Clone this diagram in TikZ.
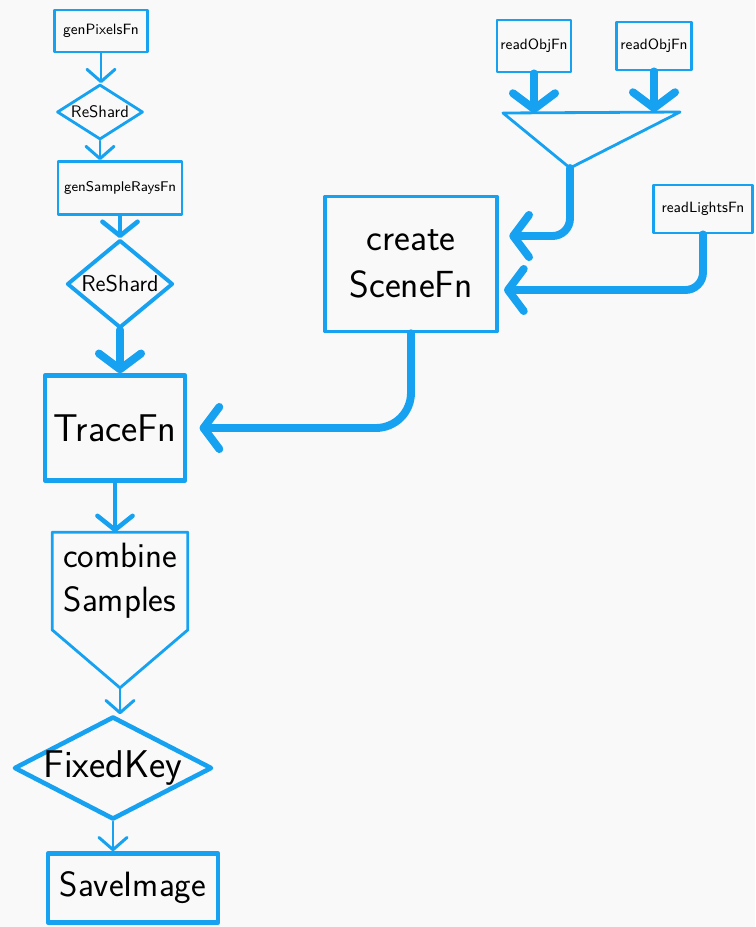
\documentclass[tikz,border=0pt]{standalone}
\usepackage{tikz}
\usetikzlibrary{shapes,calc,arrows.meta,positioning}
\definecolor{skyblue}{RGB}{22,162,240}
\definecolor{paper}{RGB}{249,249,249}

\begin{document}
\begin{tikzpicture}[x=0.02cm,y=-0.02cm,
        outline/.style={draw=skyblue, line width=1.6pt, line join=round},
        box/.style={outline, inner sep=0pt, align=center},
        bigbox/.style={box, line width=2.6pt},
        rhomb/.style={box, diamond, aspect=1.6},
        tinytext/.style={font=\sffamily\fontsize{8.5}{10}\selectfont},
        smalltext/.style={font=\sffamily\fontsize{9.5}{11}\selectfont},
        midtext/.style={font=\sffamily\fontsize{13}{15}\selectfont},
        bigtext/.style={font=\sffamily\fontsize{20}{25}\selectfont},
        hugetext/.style={font=\sffamily\fontsize{22}{27}\selectfont},
        flow/.style={skyblue, line width=1.7pt, line cap=round, -{Straight Barb[round,length=7pt,width=16pt]}},
        flowmid/.style={flow, line width=2.6pt, -{Straight Barb[round,length=8pt,width=20pt]}},
        flowbig/.style={flow, line width=4.5pt, -{Straight Barb[round,length=9pt,width=24pt]}}]
        %Background
        \fill[paper] (0,0) rectangle (755,927);
        \useasboundingbox (0,0) rectangle (755,927);
        %Left column
        \node[box, tinytext, minimum width=1.86cm, minimum height=0.84cm] (genpix) at (101,31) {genPixelsFn};
        \node[rhomb, smalltext, minimum width=1.72cm, minimum height=1.1cm] (reshardA) at (100,112) {ReShard};
        \node[box, font=\sffamily\fontsize{8}{10}\selectfont, minimum width=2.48cm, minimum height=1.06cm] (gensample) at (120,188) {genSampleRaysFn};
        \node[rhomb, midtext, line width=2.2pt, minimum width=2.12cm, minimum height=1.76cm] (reshardB) at (120,284) {ReShard};
        \node[bigbox, hugetext, minimum width=2.8cm, minimum height=2.1cm] (trace) at (115,428) {TraceFn};
        \node[bigtext, align=center, inner sep=0pt, minimum width=2.7cm, minimum height=1.94cm] (comb) at (120,581) {combine\\Samples};
        \coordinate (combtip) at ([yshift=-1.16cm]comb.south);
        \draw[outline] (comb.north west) -- (comb.north east) -- (comb.south east) -- (combtip) -- (comb.south west) -- cycle;
        \node[rhomb, hugetext, line width=2.6pt, aspect=1.9, inner sep=-5pt, minimum width=3.96cm, minimum height=2.06cm] (fixed) at (113,768) {FixedKey};
        \node[bigbox, bigtext, minimum width=3.4cm, minimum height=1.38cm] (save) at (133,888) {SaveImage};
        %Right side
        \node[box, tinytext, minimum width=1.48cm, minimum height=1.04cm] (readA) at (534,46) {readObjFn};
        \node[box, tinytext, minimum width=1.5cm, minimum height=0.96cm] (readB) at (654,46) {readObjFn};
        \coordinate (funnelL) at (503,113);
        \coordinate (funnelR) at (680,112);
        \coordinate (funnelTip) at (570,168);
        \draw[outline] (funnelL) -- (funnelR) -- (funnelTip) -- cycle;
        \node[box, tinytext, minimum width=1.98cm, minimum height=0.96cm] (lights) at (703,209) {readLightsFn};
        \node[box, font=\sffamily\fontsize{21.5}{27}\selectfont, line width=2pt, minimum width=3.44cm, minimum height=2.7cm] (scene) at (411,264) {create\\SceneFn};
        %Left flow
        \draw[flow] (genpix.south) -- (genpix.south |- reshardA.north);
        \draw[flow] (reshardA.south) -- (reshardA.south |- gensample.north);
        \draw[flowmid] (gensample.south) -- (gensample.south |- reshardB.north);
        \draw[flowbig] (reshardB.south) -- (reshardB.south |- trace.north);
        \draw[flowmid] (trace.south) -- (trace.south |- comb.north);
        \draw[flow] (combtip) -- (combtip |- fixed.north);
        \draw[flow] (fixed.south) -- (fixed.south |- save.north);
        %Right flow
        \draw[flowbig] (readA.south) -- (readA.south |- funnelL);
        \draw[flowbig] (readB.south) -- (readB.south |- funnelR);
        \draw[flowbig, rounded corners=10pt, shorten >=6pt] (funnelTip) |- ([yshift=0.56cm]scene.east);
        \draw[flowbig, rounded corners=10pt, shorten >=3pt] (lights.south) |- ([yshift=-0.52cm]scene.east);
        \draw[flowbig, rounded corners=20pt, shorten >=7pt] (scene.south) |- (trace.east);
\end{tikzpicture}
\end{document}
